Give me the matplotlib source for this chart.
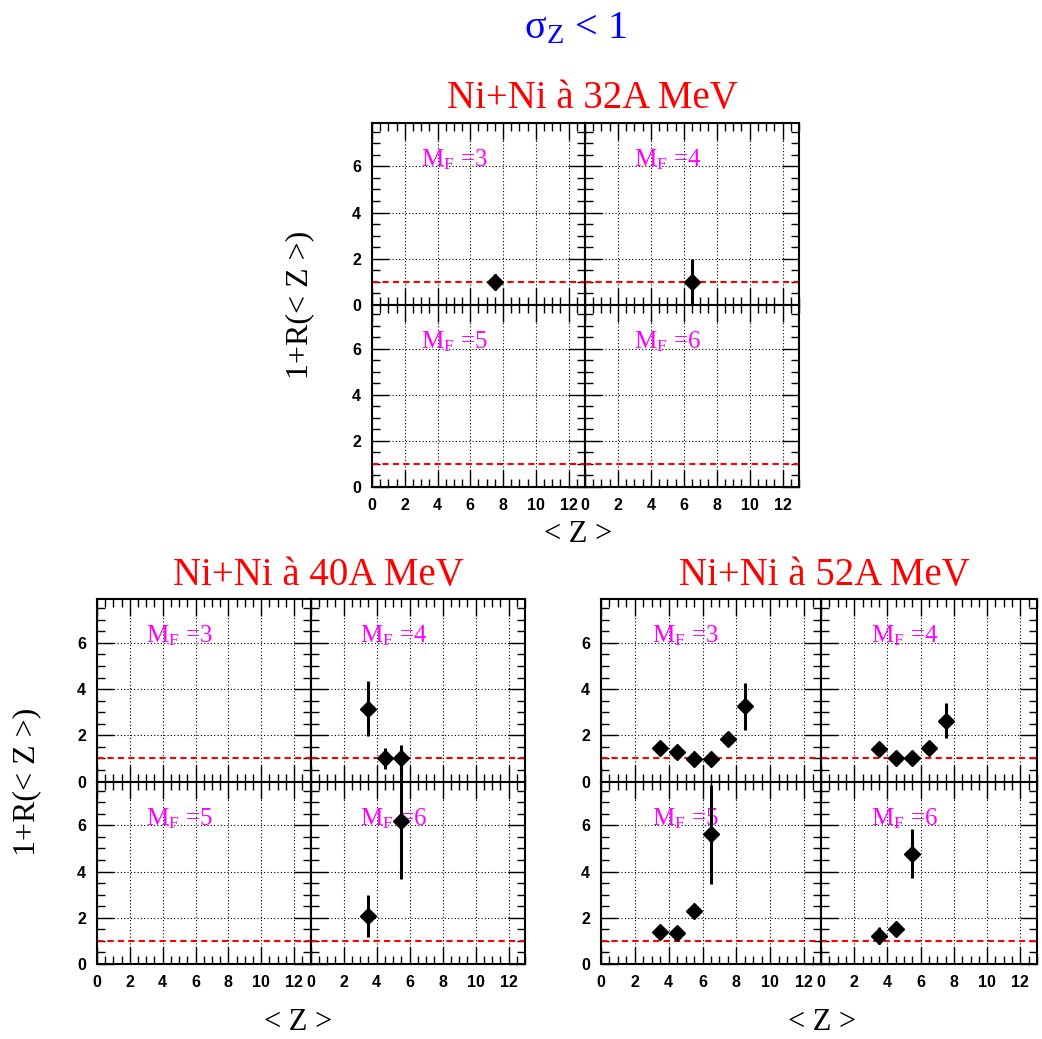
import matplotlib
matplotlib.use("Agg")
import matplotlib.pyplot as plt
from matplotlib.ticker import MultipleLocator

plt.rcParams['font.family'] = 'Liberation Sans'
plt.rcParams['mathtext.fontset'] = 'custom'
plt.rcParams['mathtext.rm'] = 'Liberation Serif'
plt.rcParams['mathtext.it'] = 'Liberation Serif:italic'

# ---- data : (<Z>, 1+R, error) per multiplicity panel ----
mf_values = ['3', '4', '5', '6']

# Ni+Ni 32A MeV
z32_m3, r32_m3, e32_m3 = [7.5], [1.0], [0.35]
z32_m4, r32_m4, e32_m4 = [6.5], [1.0], [1.0]
z32_m5, r32_m5, e32_m5 = [], [], []
z32_m6, r32_m6, e32_m6 = [], [], []

# Ni+Ni 40A MeV
z40_m3, r40_m3, e40_m3 = [], [], []
z40_m4, r40_m4, e40_m4 = [3.5, 4.5, 5.5], [3.15, 1.0, 1.0], [1.18, 0.45, 0.6]
z40_m5, r40_m5, e40_m5 = [], [], []
z40_m6, r40_m6, e40_m6 = [3.5, 5.5], [2.07, 6.2], [0.92, 2.5]

# Ni+Ni 52A MeV
z52_m3 = [3.5, 4.5, 5.5, 6.5, 7.5, 8.5]
r52_m3 = [1.43, 1.28, 0.97, 0.97, 1.83, 3.25]
e52_m3 = [0.2, 0.2, 0.2, 0.2, 0.25, 1.0]
z52_m4 = [3.5, 4.5, 5.5, 6.5, 7.5]
r52_m4 = [1.4, 1.0, 1.0, 1.45, 2.63]
e52_m4 = [0.2, 0.2, 0.2, 0.2, 0.75]
z52_m5 = [3.5, 4.5, 5.5, 6.5]
r52_m5 = [1.39, 1.33, 2.29, 5.61]
e52_m5 = [0.2, 0.2, 0.2, 2.13]
z52_m6 = [3.5, 4.5, 5.5]
r52_m6 = [1.23, 1.52, 4.78]
e52_m6 = [0.36, 0.29, 1.07]

titles = ['Ni+Ni à 32A MeV', 'Ni+Ni à 40A MeV', 'Ni+Ni à 52A MeV']

W, H = 1042, 1039
fig = plt.figure(figsize=(W / 100, H / 100), dpi=100)


def px_axes(x0, x1, y0, y1):
    return fig.add_axes([x0 / W, 1 - y1 / H, (x1 - x0) / W, (y1 - y0) / H])


def ftext(x, y, s, **kw):
    fig.text(x / W, 1 - y / H, s, family='Liberation Serif', **kw)


def panel(ax, z, r, e, mf, show_x, show_y):
    ax.set_xlim(0, 13)
    ax.set_ylim(0, 7.9)
    ax.xaxis.set_major_locator(MultipleLocator(2))
    ax.xaxis.set_minor_locator(MultipleLocator(0.5))
    ax.yaxis.set_major_locator(MultipleLocator(2))
    ax.yaxis.set_minor_locator(MultipleLocator(0.5))
    ax.grid(True, which='major', color='black', linestyle=(0, (1, 2)), linewidth=0.8)
    ax.tick_params(which='both', direction='in', top=True, right=True,
                   labelsize=11.5, width=1, pad=8,
                   labelbottom=show_x, labelleft=show_y)
    ax.tick_params(which='major', length=12)
    ax.tick_params(which='minor', length=6)
    for lab in ax.get_xticklabels() + ax.get_yticklabels():
        lab.set_fontweight('bold')
    for s in ax.spines.values():
        s.set_linewidth(1.5)
    ax.axhline(1, color='red', linestyle=(0, (3, 2)), linewidth=1.5)
    if len(z):
        ax.errorbar(z, r, yerr=e, fmt='D', color='black', ms=8.5, elinewidth=2.2,
                    capsize=0, clip_on=False, zorder=5)
    ax.text(3.0, 6.0, r'M$_{\mathrm{F}}$ =' + mf, color='magenta', fontsize=18,
            family='Liberation Serif', va='baseline')


groups = [
    ([372, 585, 799], [122.5, 305, 487],
     [(z32_m3, r32_m3, e32_m3), (z32_m4, r32_m4, e32_m4),
      (z32_m5, r32_m5, e32_m5), (z32_m6, r32_m6, e32_m6)]),
    ([97, 310.5, 525], [599, 781.5, 964],
     [(z40_m3, r40_m3, e40_m3), (z40_m4, r40_m4, e40_m4),
      (z40_m5, r40_m5, e40_m5), (z40_m6, r40_m6, e40_m6)]),
    ([601, 821, 1037], [599, 781.5, 964],
     [(z52_m3, r52_m3, e52_m3), (z52_m4, r52_m4, e52_m4),
      (z52_m5, r52_m5, e52_m5), (z52_m6, r52_m6, e52_m6)]),
]

for cols, rows, data in groups:
    for k, (z, r, e) in enumerate(data):
        i, j = divmod(k, 2)
        ax = px_axes(cols[j], cols[j + 1], rows[i], rows[i + 1])
        panel(ax, z, r, e, mf_values[k], show_x=(i == 1), show_y=(j == 0))

# titles and labels
ftext(575, 38, 'σ$_{\\mathrm{Z}}$ < 1', color='blue', fontsize=29, ha='center', va='baseline')
ftext(592, 108, titles[0], color='red', fontsize=28, ha='center', va='baseline')
ftext(318, 585, titles[1], color='red', fontsize=28, ha='center', va='baseline')
ftext(824, 585, titles[2], color='red', fontsize=28, ha='center', va='baseline')

ftext(300, 305, '1+R(< Z >)', fontsize=23, rotation=90, ha='center', va='center')
ftext(27, 781.5, '1+R(< Z >)', fontsize=23, rotation=90, ha='center', va='center')
ftext(578, 535, '< Z >', fontsize=22, ha='center', va='center')
ftext(298, 1022, '< Z >', fontsize=22, ha='center', va='center')
ftext(822, 1022, '< Z >', fontsize=22, ha='center', va='center')

fig.savefig('out.png', dpi=100)
